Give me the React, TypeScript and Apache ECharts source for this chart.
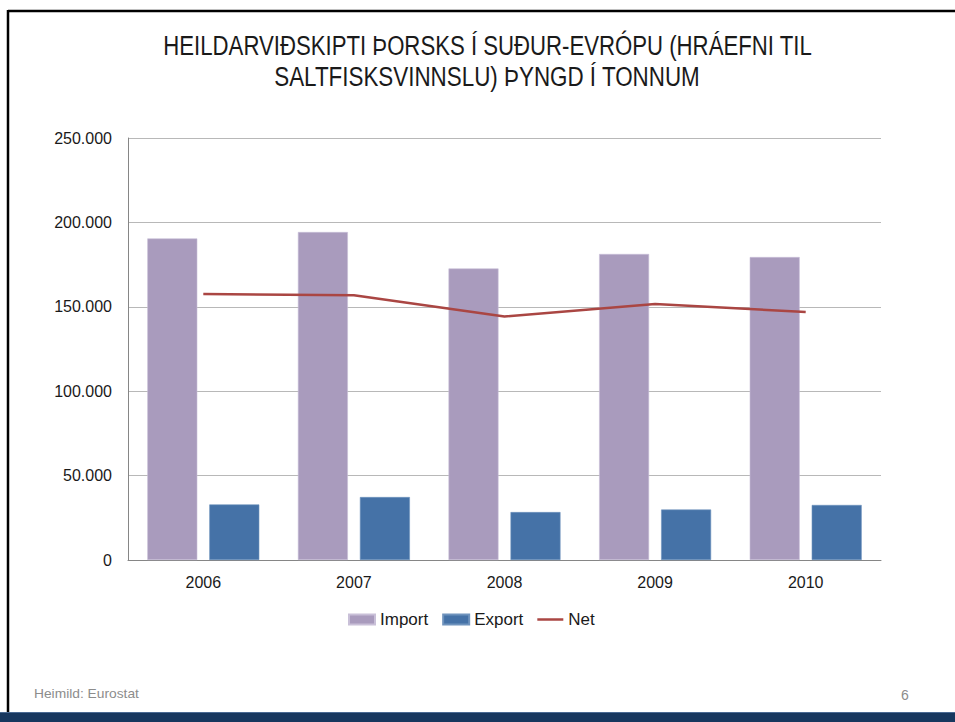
import React, { useEffect, useRef } from "react";
import * as echarts from "echarts";

const years = ["2006", "2007", "2008", "2009", "2010"];
const importValues = [190500, 194300, 172700, 181300, 179500];
const exportValues = [32900, 37300, 28400, 29900, 32600];
const netValues = [157600, 156800, 144300, 151700, 146900];
const yTicks = [0, 50000, 100000, 150000, 200000, 250000];

const titleLines = [
  "HEILDARVIÐSKIPTI ÞORSKS Í SUÐUR-EVRÓPU (HRÁEFNI TIL",
  "SALTFISKSVINNSLU) ÞYNGD Í TONNUM",
];
const sourceText = "Heimild: Eurostat";
const pageNumber = "6";

const TITLE_FONT = "'Liberation Sans Narrow', 'Liberation Sans', Arial, sans-serif";
const BODY_FONT = "'Liberation Sans', Arial, sans-serif";
const LINE_ICON = "path://M0,0 M0,3.75 L26,3.75 L26,6.25 L0,6.25 Z M26,10";

function measure(text: string, size: number, family: string): number {
  const c = document.createElement("canvas").getContext("2d");
  if (!c) return text.length * size * 0.5;
  c.font = `${size}px ${family}`;
  return c.measureText(text).width;
}

function fmt(v: number): string {
  if (v === 0) return "0";
  const s = Math.round(v).toString();
  return s.replace(/\B(?=(\d{3})+(?!\d))/g, ".");
}

export default function App() {
  const ref = useRef<HTMLDivElement>(null);
  useEffect(() => {
    if (!ref.current) return;
    const chart = echarts.init(ref.current, null, { renderer: "svg" });
    const t1w = measure(titleLines[0], 28, TITLE_FONT);
    const t2w = measure(titleLines[1], 28, TITLE_FONT);
    const sw = measure(sourceText, 13, TITLE_FONT);
    chart.setOption({
      animation: false,
      backgroundColor: "#ffffff",
      textStyle: { fontFamily: BODY_FONT },
      grid: { left: 128, right: 74, top: 138, bottom: 162, containLabel: false },
      legend: {
        left: 343,
        top: 606,
        itemWidth: 26,
        itemHeight: 10,
        itemGap: 14,
        textStyle: { fontSize: 17, color: "#1a1a1a", fontFamily: BODY_FONT },
        data: [
          { name: "Import", icon: "rect" },
          { name: "Export", icon: "rect" },
          { name: "Net", icon: LINE_ICON },
        ],
      },
      xAxis: {
        type: "category",
        data: years,
        axisLine: { lineStyle: { color: "#868686", width: 1 } },
        axisTick: { show: false },
        axisLabel: { fontSize: 16, color: "#1a1a1a", margin: 14 },
        splitLine: { show: false },
      },
      yAxis: {
        type: "value",
        min: 0,
        max: 250000,
        interval: 50000,
        axisLine: { show: true, lineStyle: { color: "#868686", width: 1 } },
        axisTick: { show: false },
        axisLabel: {
          fontSize: 16,
          color: "#1a1a1a",
          margin: 16,
          formatter: (v: number) => (yTicks.includes(v) ? fmt(v) : ""),
        },
        splitLine: { lineStyle: { color: "#b8b8b8", width: 1 } },
      },
      series: [
        {
          name: "Import",
          type: "bar",
          data: importValues,
          barWidth: 50,
          barGap: "24%",
          itemStyle: { color: "#A99BBD", borderColor: "#c9c0d8", borderWidth: 0.6 },
        },
        {
          name: "Export",
          type: "bar",
          data: exportValues,
          barWidth: 50,
          barGap: "24%",
          itemStyle: { color: "#4572A7", borderColor: "#6f93bd", borderWidth: 0.6 },
        },
        {
          name: "Net",
          type: "line",
          data: netValues,
          symbol: "none",
          lineStyle: { color: "#AA4643", width: 2.5 },
          itemStyle: { color: "#AA4643" },
          z: 5,
        },
      ],
      graphic: [
        {
          type: "text",
          x: 487.5,
          y: 45,
          scaleX: 649 / t1w,
          style: {
            text: titleLines[0],
            font: `28px ${TITLE_FONT}`,
            fill: "#1a1a1a",
            align: "center",
            verticalAlign: "middle",
          },
        },
        {
          type: "text",
          x: 487,
          y: 76,
          scaleX: 426 / t2w,
          style: {
            text: titleLines[1],
            font: `28px ${TITLE_FONT}`,
            fill: "#1a1a1a",
            align: "center",
            verticalAlign: "middle",
          },
        },
        {
          type: "text",
          x: 34,
          y: 694,
          scaleX: 105 / sw,
          style: {
            text: sourceText,
            font: `13px ${TITLE_FONT}`,
            fill: "#8c8c8c",
            align: "left",
            verticalAlign: "middle",
          },
        },
        {
          type: "text",
          x: 905,
          y: 695,
          style: {
            text: pageNumber,
            font: `14px ${TITLE_FONT}`,
            fill: "#8c8c8c",
            align: "center",
            verticalAlign: "middle",
          },
        },
        {
          type: "line",
          shape: { x1: 8, y1: 11, x2: 955, y2: 11 },
          style: { stroke: "#000000", lineWidth: 2.5 },
        },
        {
          type: "line",
          shape: { x1: 8, y1: 10, x2: 8, y2: 713 },
          style: { stroke: "#000000", lineWidth: 2.5 },
        },
        {
          type: "rect",
          shape: { x: 0, y: 712, width: 955, height: 10 },
          style: { fill: "#17375E" },
        },
        {
          type: "line",
          shape: { x1: 0, y1: 712.5, x2: 955, y2: 712.5 },
          style: { stroke: "#4a6a93", lineWidth: 1 },
        },
      ],
    });
    return () => chart.dispose();
  }, []);
  return (
    <div
      ref={ref}
      style={{ position: "fixed", left: 0, top: 0, width: 955, height: 722 }}
    />
  );
}
